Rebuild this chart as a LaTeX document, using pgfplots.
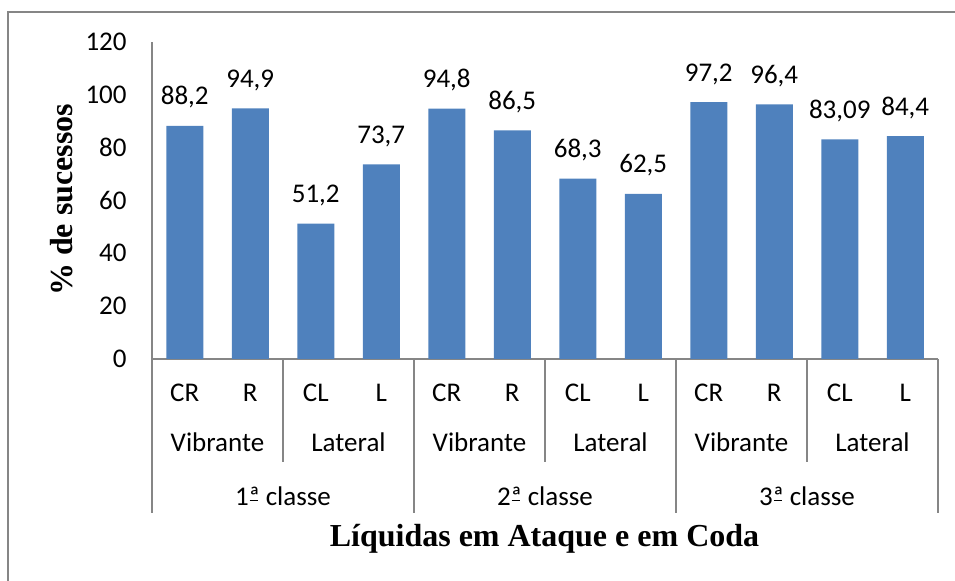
\documentclass[border=0pt]{standalone}
\usepackage{fontspec}
\setmainfont{Carlito}
\newfontfamily\tnr{Liberation Serif}
\usepackage{pgfplots}
\pgfplotsset{compat=1.18}
\definecolor{barblue}{HTML}{4F81BD}
\definecolor{axgray}{HTML}{868686}
\newcommand\ord{\makebox[0pt][l]{\hspace{0.03em}\rule[0.17em]{0.3em}{0.045em}}ª}
\begin{document}
\begin{tikzpicture}[x=0.5pt,y=0.5pt]
\useasboundingbox (0,0) rectangle (955,581);
\draw[axgray, line width=0.75pt] (8,0) -- (8,569) -- (955,569);
\begin{axis}[
  at={(76pt,111pt)}, anchor=south west,
  scale only axis, width=393pt, height=158.5pt,
  xmin=0.5, xmax=12.5, ymin=0, ymax=120,
  axis x line*=bottom, axis y line*=left,
  axis line style={axgray, line width=0.75pt, -},
  xtick=\empty,
  ytick={0,20,...,120},
  major tick length=0pt,
  yticklabel style={font=\fontsize{13.5}{16}\selectfont, inner sep=0pt, xshift=-12.5pt, anchor=east},
  /pgf/number format/assume math mode=true,
  ybar, bar width=18.5pt,
  point meta=explicit symbolic,
  nodes near coords,
  every node near coord/.append style={font=\fontsize{13.5}{16}\selectfont, anchor=base, inner sep=0pt, yshift=10.5pt},
  clip=false,
]
\addplot[fill=barblue, draw=none] table[meta=label] {
x y label
1 88.2 88,2
2 94.9 94,9
3 51.2 51,2
4 73.7 73,7
5 94.8 94,8
6 86.5 86,5
7 68.3 68,3
8 62.5 62,5
9 97.2 97,2
10 96.4 96,4
11 83.09 83,09
12 84.4 84,4
};
\end{axis}
\foreach \k in {0,2,4,6} \draw[axgray, line width=0.75pt] ({152+131*\k},222) -- ({152+131*\k},68);
\foreach \k in {1,3,5} \draw[axgray, line width=0.75pt] ({152+131*\k},222) -- ({152+131*\k},119);
\foreach \lab [count=\i] in {CR,R,CL,L,CR,R,CL,L,CR,R,CL,L}
  \node[anchor=base, inner sep=0pt, font=\fontsize{13.5}{16}\selectfont] at ({152+65.5*(\i-0.5)},179) {\lab};
\foreach \lab [count=\j] in {Vibrante,Lateral,Vibrante,Lateral,Vibrante,Lateral}
  \node[anchor=base, inner sep=0pt, font=\fontsize{13.5}{16}\selectfont] at ({152+131*(\j-0.5)},129) {\lab};
\foreach \lab [count=\m] in {1,2,3}
  \node[anchor=base, inner sep=0pt, font=\fontsize{13.5}{16}\selectfont] at ({152+262*(\m-0.5)},75) {\lab\ord{} classe};
\node[anchor=base, inner sep=0pt, font=\tnr\bfseries\fontsize{16}{19}\selectfont] at (544.5,34) {Líquidas em Ataque e em Coda};
\node[anchor=base, inner sep=0pt, rotate=90, font=\tnr\bfseries\fontsize{16}{19}\selectfont] at (72,381) {\% de sucessos};
\end{tikzpicture}
\end{document}
